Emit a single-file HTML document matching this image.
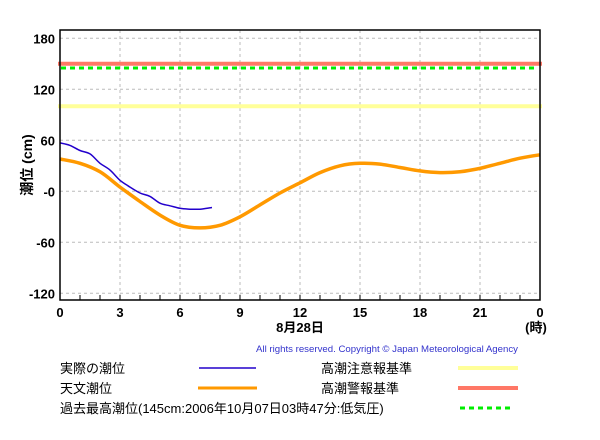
<!DOCTYPE html>
<html><head><meta charset="utf-8"><style>
html,body{margin:0;padding:0;background:#fff;}
svg{display:block;font-family:"Liberation Sans","Noto Sans CJK JP",sans-serif;}
</style></head><body>
<svg id="chart" width="600" height="440" xmlns="http://www.w3.org/2000/svg">
<g id="grid"></g>
<g id="refs"></g>
<g id="series"></g>
<rect x="60" y="30" width="480" height="270" fill="none" stroke="#000" stroke-width="1.5"/>
<g id="axes"></g>
<text x="32" y="165" transform="rotate(-90 32 165)" text-anchor="middle" font-size="14" font-weight="bold">潮位 (cm)</text>
<text x="300" y="332" text-anchor="middle" font-size="13" font-weight="bold">8月28日</text>
<text x="536" y="332" text-anchor="middle" font-size="13" font-weight="bold">(時)</text>
<text x="518" y="352" text-anchor="end" font-size="9.5" fill="#3333cc" textLength="262" lengthAdjust="spacingAndGlyphs">All rights reserved. Copyright © Japan Meteorological Agency</text>
<g font-size="13">
<text x="60" y="373">実際の潮位</text>
<line x1="199" y1="368" x2="256" y2="368" stroke="#2200cc" stroke-width="1.5"/>
<text x="60" y="393">天文潮位</text>
<line x1="198" y1="388" x2="257" y2="388" stroke="#ff9900" stroke-width="3"/>
<text x="60" y="413">過去最高潮位(145cm:2006年10月07日03時47分:低気圧)</text>
<line x1="460" y1="408" x2="512" y2="408" stroke="#00ee00" stroke-width="3" stroke-dasharray="5,4"/>
<text x="321" y="373">高潮注意報基準</text>
<line x1="458" y1="368" x2="518" y2="368" stroke="#ffff99" stroke-width="4"/>
<text x="321" y="393">高潮警報基準</text>
<line x1="458" y1="388" x2="518" y2="388" stroke="#ff7766" stroke-width="4"/>
</g>
</svg>
<script>
const yTicks=[180,120,60,0,-60,-120];
const yTickLabels=["180","120","60","-0","-60","-120"];
const xTicks=[0,3,6,9,12,15,18,21,24];
const xTickLabels=["0","3","6","9","12","15","18","21","0"];
const astroHours=[0,1,2,3,4,5,6,7,8,9,10,11,12,13,14,15,16,17,18,19,20,21,22,23,24];
const astroValues=[38,33,23,5,-12,-28,-40,-43,-40,-30,-16,-2,10,22,30,33,32,28,24,22,23,27,33,39,43];
const obsHours=[0,0.5,1,1.5,2,2.5,3,3.5,4,4.5,5,5.5,6,6.5,7,7.6];
const obsValues=[57,54,48,44,33,25,13,5,-2,-6,-14,-17,-20,-21,-21,-19];
const refValues=[150,145,100];
const refNames=["warning-level-line","record-high-line","caution-level-line"];
const refColors=["#ff7766","#00ee00","#ffff99"];

const NS="http://www.w3.org/2000/svg";
const X=h=>60+h*20;
const Y=v=>191.3-v*0.85;
function mk(t,a,p){const e=document.createElementNS(NS,t);for(const k in a)e.setAttribute(k,a[k]);p.appendChild(e);return e;}
const grid=document.getElementById('grid'),axes=document.getElementById('axes'),refs=document.getElementById('refs'),series=document.getElementById('series');
yTicks.forEach((v,i)=>{
  const l=mk('line',{x1:60,x2:540,y1:Y(v),y2:Y(v),stroke:'#bbb','stroke-dasharray':'3,3'},grid);
  
  
  const t=mk('text',{x:55,y:Y(v)+5,'text-anchor':'end','font-size':'13','font-weight':'bold'},axes);
  t.textContent=yTickLabels[i];
  
  
});
xTicks.forEach((h,i)=>{
  if(h>0&&h<24){const l=mk('line',{x1:X(h),x2:X(h),y1:30,y2:300,stroke:'#bbb','stroke-dasharray':'3,3'},grid);
  
  }
  const t=mk('text',{x:X(h),y:317,'text-anchor':'middle','font-size':'13','font-weight':'bold'},axes);
  t.textContent=xTickLabels[i];
  
  
});
for(let h=1;h<24;h++){const l=mk('line',{x1:X(h),x2:X(h),y1:295,y2:300,stroke:'#000'},axes);
  
  }
refValues.forEach((v,i)=>{
  const a={x1:58,x2:542,y1:Y(v),y2:Y(v),stroke:refColors[i],'stroke-width':i==1?3:4};
  if(i==1){a['stroke-dasharray']='5,4';a.x1=61;a.x2=535;}
  const l=mk('line',a,refs);
  
  
});
function smoothPath(hs,vs){
  const p=hs.map((h,i)=>[X(h),Y(vs[i])]);
  let d='M'+p[0][0].toFixed(1)+','+p[0][1].toFixed(1);
  for(let i=0;i<p.length-1;i++){
    const p0=p[Math.max(0,i-1)],p1=p[i],p2=p[i+1],p3=p[Math.min(p.length-1,i+2)];
    const c1=[p1[0]+(p2[0]-p0[0])/6,p1[1]+(p2[1]-p0[1])/6];
    const c2=[p2[0]-(p3[0]-p1[0])/6,p2[1]-(p3[1]-p1[1])/6];
    d+=' C'+c1[0].toFixed(1)+','+c1[1].toFixed(1)+' '+c2[0].toFixed(1)+','+c2[1].toFixed(1)+' '+p2[0].toFixed(1)+','+p2[1].toFixed(1);
  }
  return d;
}
const a=mk('path',{d:smoothPath(astroHours,astroValues),fill:'none',stroke:'#ff9900','stroke-width':3.5,'stroke-linejoin':'round'},series);


const o=mk('path',{d:smoothPath(obsHours,obsValues),fill:'none',stroke:'#2200cc','stroke-width':1.5},series);


</script>
</body></html>
